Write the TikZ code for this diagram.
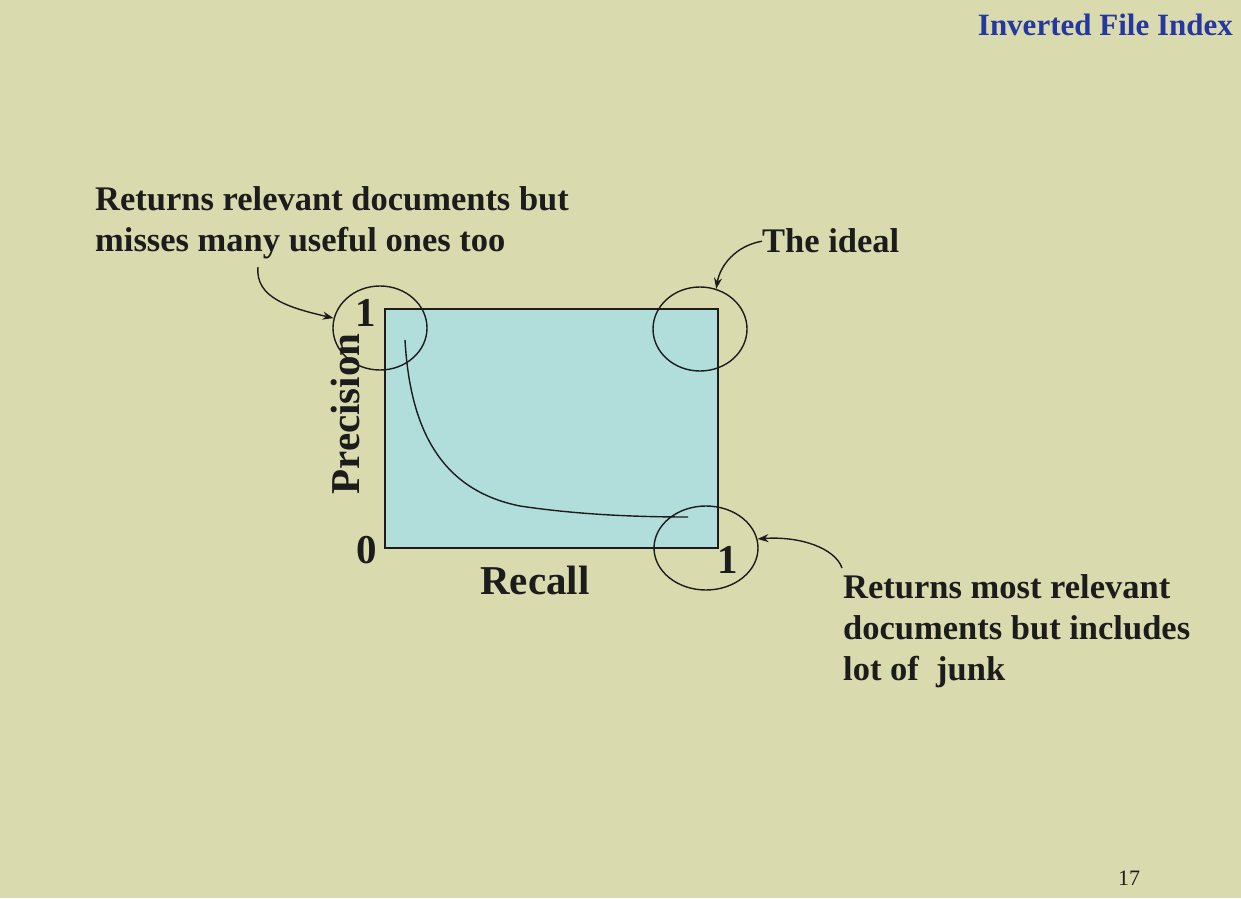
\documentclass[tikz,border=0pt]{standalone}
\usepackage{fontspec}
\setmainfont{Liberation Serif}
\usetikzlibrary{positioning,calc,arrows.meta,shapes.geometric}
\definecolor{slidebg}{RGB}{217,219,174}
\definecolor{plotfill}{RGB}{177,221,219}
\definecolor{titleblue}{RGB}{38,56,160}
\definecolor{inkgray}{RGB}{28,28,28}

\begin{document}
\begin{tikzpicture}[x=1pt,y=1pt,>={Stealth[length=11pt,width=8pt]},
          note/.style ={font=\fontsize{34.5}{41}\selectfont\bfseries,align=left,inner sep=0pt,text=inkgray},
          axis/.style ={font=\fontsize{41}{48}\selectfont\bfseries,inner sep=0pt,text=inkgray},
          ring/.style ={draw=inkgray,ellipse,line width=1.4pt,inner sep=0pt,minimum width=94pt,minimum height=84pt},
          pointer/.style={->,line width=1.4pt,draw=inkgray}]
        \fill[slidebg] (0,0) rectangle (1241,898);
        \node[font=\fontsize{31}{36}\selectfont\bfseries,text=titleblue,anchor=base east,inner sep=0pt] (title) at (1233,862) {Inverted File Index};
        \node[font=\fontsize{22}{26}\selectfont,text=inkgray,anchor=base,inner sep=0pt] (page) at (1129,13) {17};
        % the plot area
        \node[draw=inkgray,fill=plotfill,line width=1.4pt,minimum width=333pt,minimum height=239pt,inner sep=0pt] (plot) at (551.5,469.5) {};
        \draw[line width=1.4pt,draw=inkgray] (405,558) .. controls (410,470) and (440,408) .. (520,392)
              .. controls (580,383) and (640,381) .. (688,381);
        \node[axis] (zero) at (367,348) {0};
        \node[axis] (onep) at (366,585) {1};
        \node[axis] (oner) at (728,338) {1};
        \node[axis] (recall) at (535,318) {Recall};
        \node[axis,rotate=90] (prec) at (345,484) {Precision};
        % rings
        \node[ring] (tl) at (380,570) {};
        \node[ring] (tr) at (700,569) {};
        \node[ring,minimum width=104pt] (br) at (706,350) {};
        % notes
        \node[note,anchor=base west] (low) at (95,646) {Returns relevant documents but\\misses many useful ones too};
        \node[note,anchor=base west] (ideal) at (762,645) {The ideal};
        \node[note,anchor=base west] (junk) at (843,218) {Returns most relevant\\documents but includes\\lot of\ \ junk};
        \coordinate (lowtail) at (258,631);
        \coordinate (junktail) at (842,330);
        \draw[pointer] (lowtail) .. controls (255,600) and (290,590) .. (tl.168);
        \draw[pointer] (ideal.west) .. controls (735,652) and (720,632) .. (tr.68);
        \draw[pointer] (junktail) .. controls (835,350) and (800,362) .. (br.10);
      \end{tikzpicture}
\end{document}
